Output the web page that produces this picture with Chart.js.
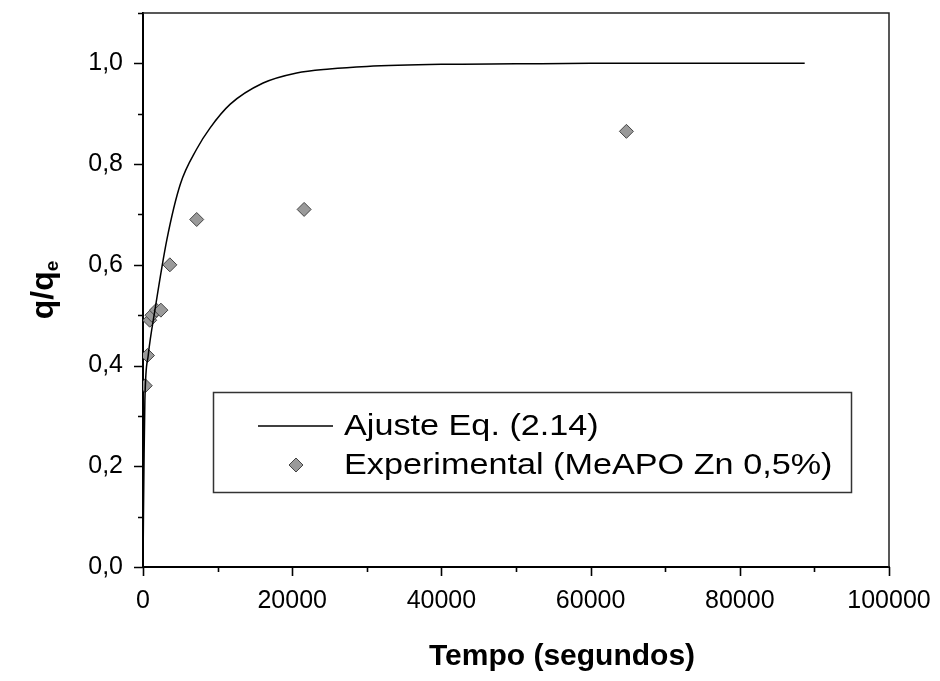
<!DOCTYPE html>
<html><head><meta charset="utf-8">
<script src="https://cdn.jsdelivr.net/npm/chart.js@4/dist/chart.umd.min.js"></script>
<style>html,body{margin:0;padding:0;background:#fff}#wrap{width:940px;height:681px}</style>
</head><body><div id="wrap"><canvas id="c" width="940" height="681"></canvas></div>
<script>
// ---- data ----
const fitTime  = [0, 60, 130, 250, 700, 1600, 3200, 5000, 7200, 9000, 11700, 16100, 20600, 25000, 30000, 40000, 50000, 60000, 75000, 88700];
const fitValue = [0, 0.10, 0.20, 0.33, 0.42, 0.51, 0.65, 0.76, 0.83, 0.872, 0.919, 0.961, 0.981, 0.989, 0.994, 0.998, 0.999, 1.0, 1.0, 1.0];
const expTime  = [300, 600, 900, 1200, 1800, 2400, 3600, 7200, 21600, 64800];
const expValue = [0.36, 0.42, 0.49, 0.50, 0.51, 0.51, 0.60, 0.69, 0.71, 0.865];
const xTickLabels = ['0', '20000', '40000', '60000', '80000', '100000'];
const yTickLabels = ['0,0', '0,2', '0,4', '0,6', '0,8', '1,0'];
const seriesNames = ['Ajuste Eq. (2.14)', 'Experimental (MeAPO Zn 0,5%)'];
const xTitle = 'Tempo (segundos)';
const yTitleMain = 'q/q';
const yTitleSub = 'e';

const FONT = "'Liberation Sans', Arial, sans-serif";

const fitData = fitTime.map((t, i) => ({x: t, y: fitValue[i]}));
const expData = expTime.map((t, i) => ({x: t, y: expValue[i]}));

function diamond(ctx, x, y, r) {
  ctx.beginPath();
  ctx.moveTo(x, y - r); ctx.lineTo(x + r, y); ctx.lineTo(x, y + r); ctx.lineTo(x - r, y); ctx.closePath();
  ctx.fillStyle = '#9a9a9a'; ctx.fill();
  ctx.lineWidth = 1; ctx.strokeStyle = '#444'; ctx.stroke();
}

function zeroPad(s) { s.paddingTop = 0; s.paddingBottom = 0; s.paddingLeft = 0; s.paddingRight = 0; }

const decor = {
  id: 'decor',
  afterDraw(chart) {
    const ctx = chart.ctx, a = chart.chartArea;
    const xs = chart.scales.x, ys = chart.scales.y;
    ctx.save();
    // top and right frame
    ctx.strokeStyle = '#222'; ctx.lineWidth = 1.5;
    ctx.beginPath();
    ctx.moveTo(a.left, a.top); ctx.lineTo(a.right, a.top); ctx.lineTo(a.right, a.bottom);
    ctx.stroke();
    // ticks: major long, minor short, outward
    ctx.strokeStyle = '#000'; ctx.lineWidth = 1.6;
    ctx.beginPath();
    xs.ticks.forEach(t => {
      const px = Math.round(xs.getPixelForValue(t.value)) + 0.5;
      const major = Math.round(t.value) % 20000 === 0;
      ctx.moveTo(px, a.bottom); ctx.lineTo(px, a.bottom + (major ? 9 : 5));
    });
    ys.ticks.forEach(t => {
      const py = Math.round(ys.getPixelForValue(t.value)) + 0.5;
      const major = Math.round(t.value * 10) % 2 === 0;
      ctx.moveTo(a.left, py); ctx.lineTo(a.left - (major ? 9 : 5), py);
    });
    ctx.stroke();
    // legend
    ctx.lineWidth = 1.5; ctx.strokeStyle = '#333';
    ctx.strokeRect(213.5, 392.5, 638, 100);
    ctx.strokeStyle = '#000'; ctx.lineWidth = 1.5;
    ctx.beginPath(); ctx.moveTo(258, 426); ctx.lineTo(333, 426); ctx.stroke();
    diamond(ctx, 296, 465, 7);
    ctx.fillStyle = '#000';
    ctx.font = '30px ' + FONT;
    ctx.textBaseline = 'middle'; ctx.textAlign = 'left';
    [[seriesNames[0], 427], [seriesNames[1], 466]].forEach(([txt, y]) => {
      ctx.save(); ctx.translate(344, y); ctx.scale(1.14, 1); ctx.fillText(txt, 0, 0); ctx.restore();
    });
    // x title
    ctx.font = 'bold 30px ' + FONT;
    ctx.textAlign = 'center';
    ctx.fillText(xTitle, 562, 657);
    // y title with subscript
    ctx.translate(44, 290);
    ctx.rotate(-Math.PI / 2);
    ctx.font = 'bold 32px ' + FONT;
    const w1 = ctx.measureText(yTitleMain).width;
    ctx.font = 'bold 19px ' + FONT;
    const w2 = ctx.measureText(yTitleSub).width;
    const start = -(w1 + w2) / 2;
    ctx.textAlign = 'left';
    ctx.font = 'bold 32px ' + FONT;
    ctx.fillText(yTitleMain, start, 0);
    ctx.font = 'bold 19px ' + FONT;
    ctx.fillText(yTitleSub, start + w1, 9);
    ctx.restore();
  }
};

new Chart(document.getElementById('c'), {
  type: 'scatter',
  data: {
    datasets: [
      {
        label: seriesNames[1], data: expData,
        pointStyle: 'rectRot', pointRadius: 7, pointHoverRadius: 7,
        backgroundColor: '#9a9a9a', borderColor: '#444', borderWidth: 1,
        order: 2
      },
      {
        label: seriesNames[0], data: fitData, showLine: true,
        borderColor: '#000', borderWidth: 1.5, pointRadius: 0,
        cubicInterpolationMode: 'monotone', fill: false,
        order: 1
      }
    ]
  },
  options: {
    responsive: false, animation: false, devicePixelRatio: 1,
    layout: {autoPadding: false, padding: {top: 13, right: 51, left: 0, bottom: 0}},
    plugins: {legend: {display: false}, tooltip: {enabled: false}},
    scales: {
      x: {
        type: 'linear', min: 0, max: 100000,
        border: {color: '#000', width: 2},
        grid: {drawOnChartArea: false, drawTicks: false},
        ticks: {
          stepSize: 10000, autoSkip: false, maxRotation: 0, padding: 19,
          color: '#000', font: {family: FONT, size: 25},
          callback: (v) => (Math.round(v) % 20000 === 0 ? xTickLabels[Math.round(v / 20000)] : '')
        },
        afterFit: (s) => { s.height = 114; zeroPad(s); }
      },
      y: {
        type: 'linear', min: 0, max: 1.1,
        border: {color: '#000', width: 2},
        grid: {drawOnChartArea: false, drawTicks: false},
        ticks: {
          stepSize: 0.1, autoSkip: false, padding: 20,
          color: '#000', font: {family: FONT, size: 25},
          callback: (v) => { const k = Math.round(v * 10); return k % 2 === 0 ? yTickLabels[k / 2] : ''; }
        },
        afterFit: (s) => { s.width = 143; zeroPad(s); }
      }
    }
  },
  plugins: [decor]
});
</script>
</body></html>
